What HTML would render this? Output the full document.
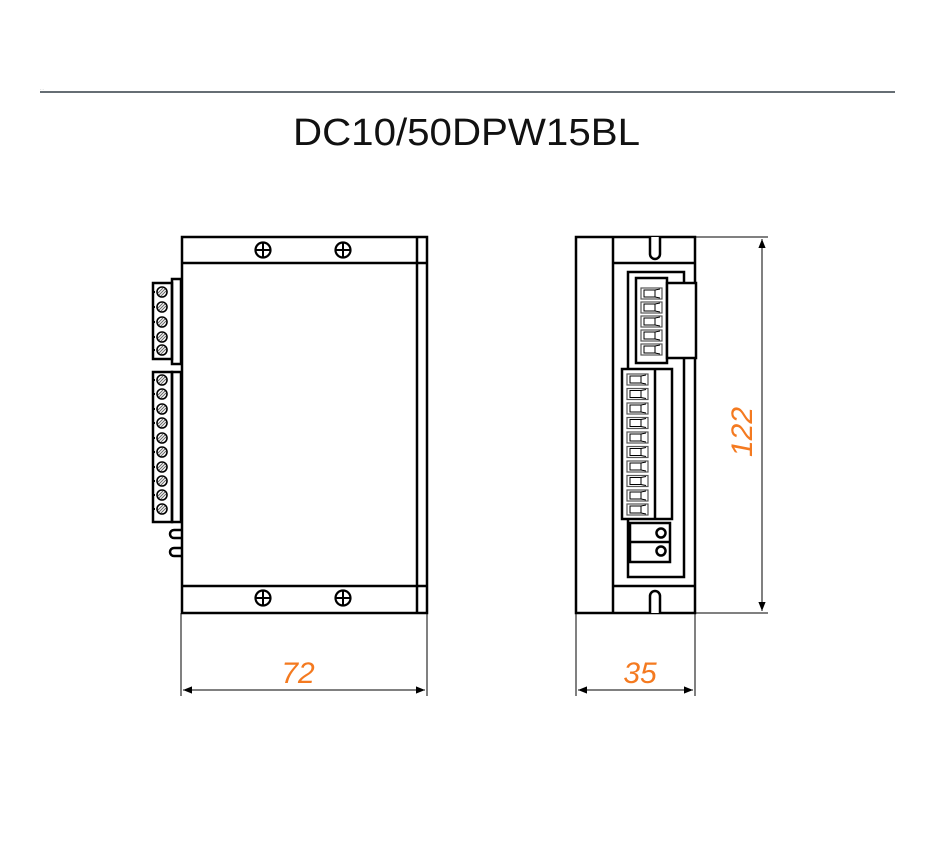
<!DOCTYPE html>
<html><head><style>body{margin:0;background:#fff}</style></head><body>
<svg width="928" height="848" viewBox="0 0 928 848" xmlns="http://www.w3.org/2000/svg" font-family="Liberation Sans, sans-serif">
<defs>
<marker id="a" viewBox="0 0 10 10" refX="10" refY="5" markerWidth="16" markerHeight="9" orient="auto-start-reverse" markerUnits="userSpaceOnUse"><path d="M0,1 L10,5 L0,9 z" fill="#000"/></marker>
<g id="scr"><circle r="7.5" fill="#fff" stroke="#000" stroke-width="2.2"/><path d="M-7 0H7M0 -7V7" stroke="#000" stroke-width="2"/></g>
<g id="ts"><circle r="5" fill="#fff" stroke="#000" stroke-width="1.6"/><path d="M-3 3L3 -3M-4 1L1 -4M-1 4L4 -1" stroke="#666" stroke-width="1"/><rect x="-9" y="-1" width="2" height="2" fill="#000"/></g>
<g id="pin"><rect x="0" y="0" width="21" height="11" fill="#fff" stroke="#555" stroke-width="1.2"/><rect x="3" y="2" width="11" height="7" fill="none" stroke="#000" stroke-width="1"/><path d="M14 2L19 1M14 9L19 10" stroke="#000" stroke-width="1"/></g>
</defs>
<text x="40" y="90" font-size="4" fill="#999">- -</text>
<line x1="40" y1="92" x2="895" y2="92" stroke="#0a1820" stroke-width="1.2"/>
<text x="293" y="145" font-size="38" textLength="347" lengthAdjust="spacingAndGlyphs" fill="#111">DC10/50DPW15BL</text>
<g fill="none" stroke="#000" stroke-width="2.5">
<rect x="182" y="237" width="245" height="376"/>
<line x1="182" y1="263" x2="427" y2="263"/>
<line x1="182" y1="586" x2="427" y2="586"/>
<line x1="417" y1="237" x2="417" y2="613"/>
<rect x="153" y="283" width="19" height="76"/>
<rect x="172" y="279" width="9" height="85"/>
<rect x="153" y="372" width="19" height="150"/>
<rect x="172" y="372" width="9" height="150"/>
<path d="M181 530H174a4 4 0 0 0 0 8H181M181 548H174a4 4 0 0 0 0 8H181"/>
</g>
<use href="#scr" x="263" y="250"/><use href="#scr" x="343" y="250"/>
<use href="#scr" x="263" y="598"/><use href="#scr" x="343" y="598"/>
<use href="#ts" x="162" y="292"/><use href="#ts" x="162" y="307"/><use href="#ts" x="162" y="322"/><use href="#ts" x="162" y="337"/><use href="#ts" x="162" y="350"/>
<use href="#ts" x="162" y="380"/><use href="#ts" x="162" y="394"/><use href="#ts" x="162" y="409"/><use href="#ts" x="162" y="423"/><use href="#ts" x="162" y="438"/><use href="#ts" x="162" y="452"/><use href="#ts" x="162" y="467"/><use href="#ts" x="162" y="481"/><use href="#ts" x="162" y="495"/><use href="#ts" x="162" y="509"/>
<g fill="none" stroke="#000" stroke-width="2.5">
<rect x="576" y="237" width="119" height="376"/>
<line x1="613" y1="237" x2="613" y2="613"/>
<path d="M613 263H695"/>
<path d="M613 586H695"/>
<path d="M650 237V254a5 5 0 0 0 10 0V237" fill="#fff"/>
<path d="M650 613V596a5 5 0 0 1 10 0V613" fill="#fff"/>
<rect x="628" y="272" width="56" height="305"/>
<rect x="636" y="278" width="31" height="85" fill="#fff"/>
<rect x="667" y="283" width="29" height="75" fill="#fff"/>
<rect x="622" y="369" width="50" height="150" fill="#fff"/>
<line x1="655" y1="369" x2="655" y2="519"/>
<rect x="630" y="523" width="40" height="39" fill="#fff"/>
<line x1="630" y1="542" x2="670" y2="542"/>
<circle cx="661" cy="533" r="4.5"/><circle cx="661" cy="551" r="4.5"/>
</g>
<use href="#pin" x="641" y="288"/><use href="#pin" x="641" y="302"/><use href="#pin" x="641" y="316"/><use href="#pin" x="641" y="330"/><use href="#pin" x="641" y="344"/>
<use href="#pin" x="627" y="374"/><use href="#pin" x="627" y="388.5"/><use href="#pin" x="627" y="403"/><use href="#pin" x="627" y="417.5"/><use href="#pin" x="627" y="432"/><use href="#pin" x="627" y="446.5"/><use href="#pin" x="627" y="461"/><use href="#pin" x="627" y="475.5"/><use href="#pin" x="627" y="490"/><use href="#pin" x="627" y="504"/>
<g stroke="#000" stroke-width="1">
<line x1="181" y1="613" x2="181" y2="696"/><line x1="427" y1="613" x2="427" y2="696"/>
<line x1="183" y1="690" x2="425" y2="690" marker-start="url(#a)" marker-end="url(#a)"/>
<line x1="576" y1="613" x2="576" y2="696"/><line x1="695" y1="613" x2="695" y2="696"/>
<line x1="578" y1="690" x2="693" y2="690" marker-start="url(#a)" marker-end="url(#a)"/>
<line x1="695" y1="237" x2="768" y2="237"/><line x1="695" y1="613" x2="768" y2="613"/>
<line x1="762" y1="239" x2="762" y2="611" marker-start="url(#a)" marker-end="url(#a)"/>
</g>
<g fill="#f47a20" font-size="30" font-style="italic" text-anchor="middle">
<text x="298" y="683">72</text>
<text x="640" y="683">35</text>
<text transform="translate(752,432) rotate(-90)">122</text>
</g>
</svg>
</body></html>
